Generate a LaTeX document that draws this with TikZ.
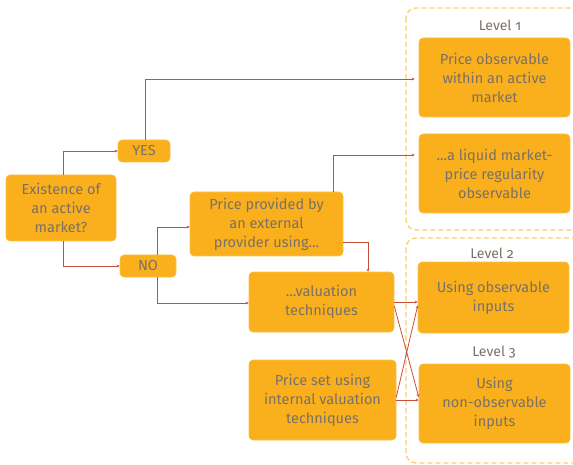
\documentclass[tikz,border=0pt]{standalone}
\usepackage{fontspec}
\setmainfont{Fira Sans}[Numbers=OldStyle]
\usetikzlibrary{arrows.meta,calc}
\definecolor{boxfill}{RGB}{250,176,28}
\definecolor{txtgray}{RGB}{122,112,102}
\definecolor{linered}{RGB}{196,80,58}
\definecolor{dashorange}{RGB}{253,205,120}
\begin{document}
\begin{tikzpicture}[x=1pt,y=-1pt,
  box/.style={fill=boxfill,draw=boxfill!80!white,line width=0.6pt,rounded corners=4pt,text=txtgray,align=center,inner sep=0pt,font=\fontsize{14.5}{19}\selectfont},
  conn/.style={draw=linered,line width=0.8pt,-{Stealth[length=3pt,width=3pt]}},
  level/.style={draw=dashorange,dashed,dash pattern=on 5pt off 3pt,line width=1.4pt,rounded corners=10pt},
  lvl/.style={text=txtgray,font=\fontsize{14}{16}\selectfont,inner sep=0pt}]
\useasboundingbox (0,0) rectangle (573,465);
\clip (0,0) rectangle (573,465);
% level containers
\draw[level] (406,8) rectangle (590,230);
\draw[level] (406,238) rectangle (590,463);
\node[lvl] (l1) at (500,25) {Level 1};
\node[lvl] (l2) at (492,253) {Level 2};
\node[lvl] (l3) at (494,352) {Level 3};
% boxes
\node[box,minimum width=110pt,minimum height=66pt] (ex) at (61,208) {Existence of\\an active\\market?};
\node[box,minimum width=52pt,minimum height=22pt] (yes) at (144,151) {YES};
\node[box,minimum width=56pt,minimum height=22pt] (no) at (148,266) {NO};
\node[box,minimum width=153pt,minimum height=64pt] (pp) at (266.5,224) {Price provided by\\an external\\provider using...};
\node[box,minimum width=145pt,minimum height=60pt] (vt) at (321.5,302) {...valuation\\techniques};
\node[box,minimum width=147pt,minimum height=80pt] (ps) at (322.5,400) {Price set using\\internal valuation\\techniques};
\node[box,minimum width=151pt,minimum height=79pt] (po) at (494.5,77.5) {Price observable\\within an active\\market};
\node[box,minimum width=151pt,minimum height=79pt] (lq) at (494.5,173.5) {...a liquid market-\\price regularity\\observable};
\node[box,minimum width=151pt,minimum height=71pt] (uo) at (493.5,297.5) {Using observable\\inputs};
\node[box,minimum width=151pt,minimum height=79pt] (nu) at (494.5,403.5) {Using\\non-observable\\inputs};
% connectors
\draw[conn] ([xshift=2pt]ex.north) |- (yes.west);
\draw[conn] ([xshift=2pt]ex.south) |- (no.west);
\draw[conn,shorten >=4pt] ([xshift=1pt]yes.north) |- ([yshift=-1.5pt]po.west);
\draw[conn] ([xshift=9pt]no.north) |- ([yshift=-3pt]pp.west);
\draw[conn] ([xshift=9pt]no.south) |- ([yshift=-1pt]vt.west);
\draw[conn,shorten >=4pt] ([xshift=66.5pt]pp.north) |- ([yshift=18.5pt]lq.west);
\draw[conn] ([yshift=-18pt]pp.east) -| ([xshift=46.5pt]vt.north);
\draw[conn] (vt.east) -- (vt.east -| uo.west);
\draw[conn] ([yshift=-4pt]vt.east) -- ([yshift=6.5pt]nu.west);
\draw[conn] (ps.east) -- (ps.east -| nu.west);
\draw[conn] ([yshift=3pt]ps.east) -- ([yshift=-8pt]uo.west);
\end{tikzpicture}
\end{document}
